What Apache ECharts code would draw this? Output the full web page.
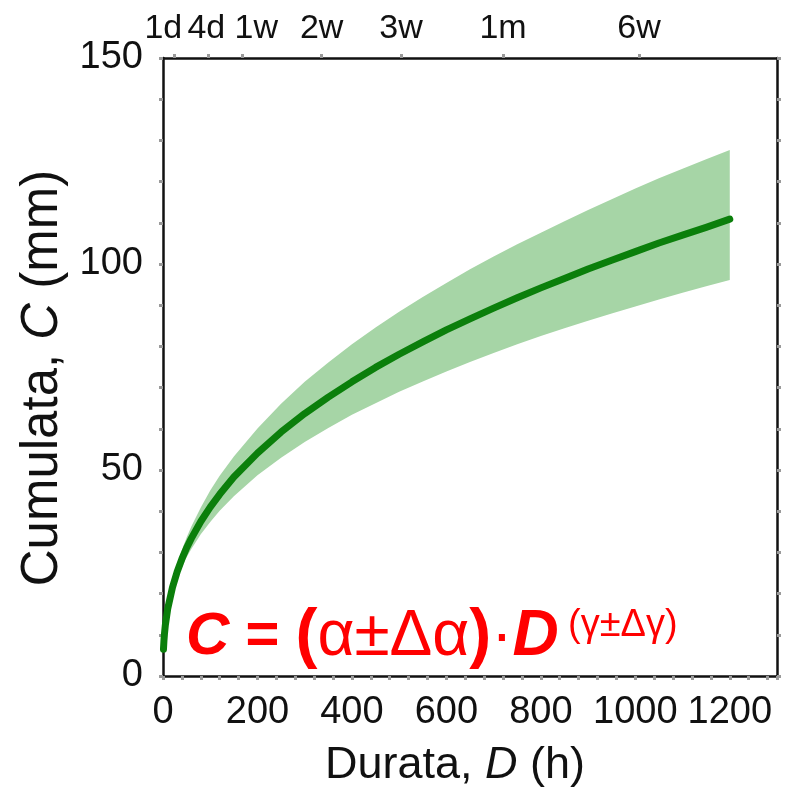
<!DOCTYPE html>
<html>
<head>
<meta charset="utf-8">
<script src="https://cdn.jsdelivr.net/npm/echarts@6/dist/echarts.min.js"></script>
<style>
html,body{margin:0;padding:0;background:#fff;}
#chart{width:786px;height:794px;}
</style>
</head>
<body>
<div id="chart"></div>
<script>
// Duration (h)
const hours   = [1, 2, 3, 5, 10, 20, 30, 40, 50, 60, 80, 100, 120, 150, 200, 250, 300, 350, 400, 450, 500, 550, 600, 650, 700, 750, 800, 850, 900, 950, 1000, 1050, 1100, 1150, 1200];
// Cumulative rainfall (mm), central curve
const central = [6.5, 8.6, 10.1, 12.4, 16.3, 21.5, 25.3, 28.4, 31.1, 33.4, 37.5, 41.0, 44.1, 48.3, 54.1, 59.2, 63.7, 67.7, 71.4, 74.9, 78.1, 81.1, 84.0, 86.7, 89.3, 91.8, 94.2, 96.5, 98.8, 100.9, 103.0, 105.1, 107.0, 108.9, 110.9];
// Upper and lower bounds of the band
const upper   = [6.5, 8.7, 10.3, 12.8, 17.1, 22.9, 27.1, 30.6, 33.6, 36.3, 40.9, 45.0, 48.6, 53.3, 60.1, 66.1, 71.4, 76.1, 80.5, 84.6, 88.4, 92.0, 95.4, 98.7, 101.8, 104.8, 107.6, 110.4, 113.1, 115.7, 118.3, 120.8, 123.1, 125.4, 127.7];
const lower   = [6.5, 8.5, 9.9, 12.0, 15.6, 20.3, 23.7, 26.4, 28.8, 30.8, 34.4, 37.4, 40.1, 43.6, 48.7, 53.0, 56.8, 60.2, 63.4, 66.2, 69.0, 71.5, 73.9, 76.2, 78.4, 80.5, 82.5, 84.4, 86.2, 88.0, 89.7, 91.4, 93.0, 94.6, 96.1];
// Top axis: reference durations
const topTickHours  = [24, 96, 168, 336, 504, 720, 1008];
const topTickLabels = ['1d', '4d', '1w', '2w', '3w', '1m', '6w'];

const FONT = 'Liberation Sans, Arial, sans-serif';
const tickStyle = {show: true, length: 4, lineStyle: {color: '#9a9a9a', width: 3}};
const lineStyleAxis = {show: true, onZero: false, lineStyle: {color: '#111', width: 2.5}};

// label nudges for the crowded top labels (style only)
const topRichKey = ['sl', 'sm', 'sr', 'n', 'n', 'n', 'n'];

const chart = echarts.init(document.getElementById('chart'), null, {renderer: 'canvas'});

const lineData = hours.map((h, i) => [h, central[i]]);
const topLabelBase = {fontSize: 34, fontFamily: FONT, color: '#111'};

chart.setOption({
  animation: false,
  backgroundColor: '#fff',
  grid: {left: 163, right: 9, top: 58, bottom: 118, containLabel: false},
  xAxis: [
    {
      type: 'value', position: 'bottom', min: 0, max: 1300, interval: 40,
      axisLine: lineStyleAxis,
      axisTick: tickStyle,
      splitLine: {show: false},
      axisLabel: {
        margin: 18, fontSize: 38, color: '#111', fontFamily: FONT, hideOverlap: false,
        formatter: v => (v % 200 === 0 && v <= 1200) ? String(v) : ''
      },
      name: '{a|Durata, }{i|D}{a| (h)}',
      nameLocation: 'middle', nameGap: 67,
      nameTextStyle: {
        padding: [0, 30, 0, 0],
        rich: {
          a: {fontSize: 45, fontFamily: FONT, color: '#111'},
          i: {fontSize: 45, fontFamily: FONT, fontStyle: 'italic', color: '#111'}
        }
      }
    },
    {
      type: 'value', position: 'top', min: 0, max: 1300,
      axisLine: lineStyleAxis,
      axisTick: Object.assign({}, tickStyle, {customValues: topTickHours}),
      splitLine: {show: false},
      axisLabel: {
        margin: 12, fontSize: 34, color: '#111', fontFamily: FONT,
        hideOverlap: false, showMinLabel: true, showMaxLabel: true,
        customValues: topTickHours,
        formatter: v => {
          const k = topTickHours.indexOf(v);
          return k >= 0 ? '{' + topRichKey[k] + '|' + topTickLabels[k] + '}' : '';
        },
        rich: {
          sl: Object.assign({padding: [0, 22, 0, 0]}, topLabelBase),
          sm: Object.assign({padding: [0, 4, 0, 0]}, topLabelBase),
          sr: Object.assign({padding: [0, 0, 0, 28]}, topLabelBase),
          n: Object.assign({}, topLabelBase)
        }
      }
    }
  ],
  yAxis: [
    {
      type: 'value', position: 'left', min: 0, max: 150, interval: 10,
      axisLine: lineStyleAxis,
      axisTick: tickStyle,
      splitLine: {show: false},
      axisLabel: {
        margin: 20, fontSize: 38, color: '#111', fontFamily: FONT, hideOverlap: false,
        formatter: v => (v % 50 === 0) ? String(v) : ''
      },
      name: '{a|Cumulata, }{i|C}{a| (mm)}',
      nameLocation: 'middle', nameGap: 90, nameRotate: 90,
      nameTextStyle: {
        padding: [0, 22, 0, 0],
        rich: {
          a: {fontSize: 51, fontFamily: FONT, color: '#111'},
          i: {fontSize: 51, fontFamily: FONT, fontStyle: 'italic', color: '#111'}
        }
      }
    },
    {
      type: 'value', position: 'right', min: 0, max: 150, interval: 10,
      axisLine: lineStyleAxis,
      axisTick: tickStyle,
      splitLine: {show: false},
      axisLabel: {show: false}
    }
  ],
  series: [
    {
      type: 'custom',
      xAxisIndex: 0, yAxisIndex: 0,
      data: [[0, 0]],
      silent: true,
      z: 1,
      renderItem: function (params, api) {
        const pts = [];
        for (let i = 0; i < hours.length; i++) pts.push(api.coord([hours[i], upper[i]]));
        for (let i = hours.length - 1; i >= 0; i--) pts.push(api.coord([hours[i], lower[i]]));
        return {type: 'polygon', shape: {points: pts}, style: {fill: '#a6d5a6'}};
      }
    },
    {
      type: 'line',
      xAxisIndex: 0, yAxisIndex: 0,
      data: lineData,
      showSymbol: false,
      symbol: 'none',
      z: 3,
      lineStyle: {color: '#0b7f0b', width: 7, cap: 'round', join: 'round'}
    }
  ],
  graphic: [
    {
      type: 'text', x: 186, y: 637, z: 10,
      style: {
        text: '{c|C}{e| = }{p|(}{g|α±Δα}{p|)}{g|·}{d|D}',
        verticalAlign: 'middle', align: 'left',
        rich: {
          c: {fontSize: 60, fontWeight: 'bold', fontStyle: 'italic', fontFamily: FONT, fill: '#ff0000'},
          d: {fontSize: 64, fontWeight: 'bold', fontStyle: 'italic', fontFamily: FONT, fill: '#ff0000'},
          e: {fontSize: 58, fontWeight: 'bold', fontFamily: FONT, fill: '#ff0000'},
          p: {fontSize: 66, fontWeight: 'bold', fontFamily: FONT, fill: '#ff0000'},
          g: {fontSize: 64, fontFamily: FONT, fill: '#ff0000'}
        }
      }
    },
    {
      type: 'text', x: 568, y: 626, z: 10,
      style: {
        text: '(γ±Δγ)',
        verticalAlign: 'middle', align: 'left',
        fontSize: 38, fontFamily: FONT, fill: '#ff0000'
      }
    }
  ]
});
</script>
</body>
</html>
